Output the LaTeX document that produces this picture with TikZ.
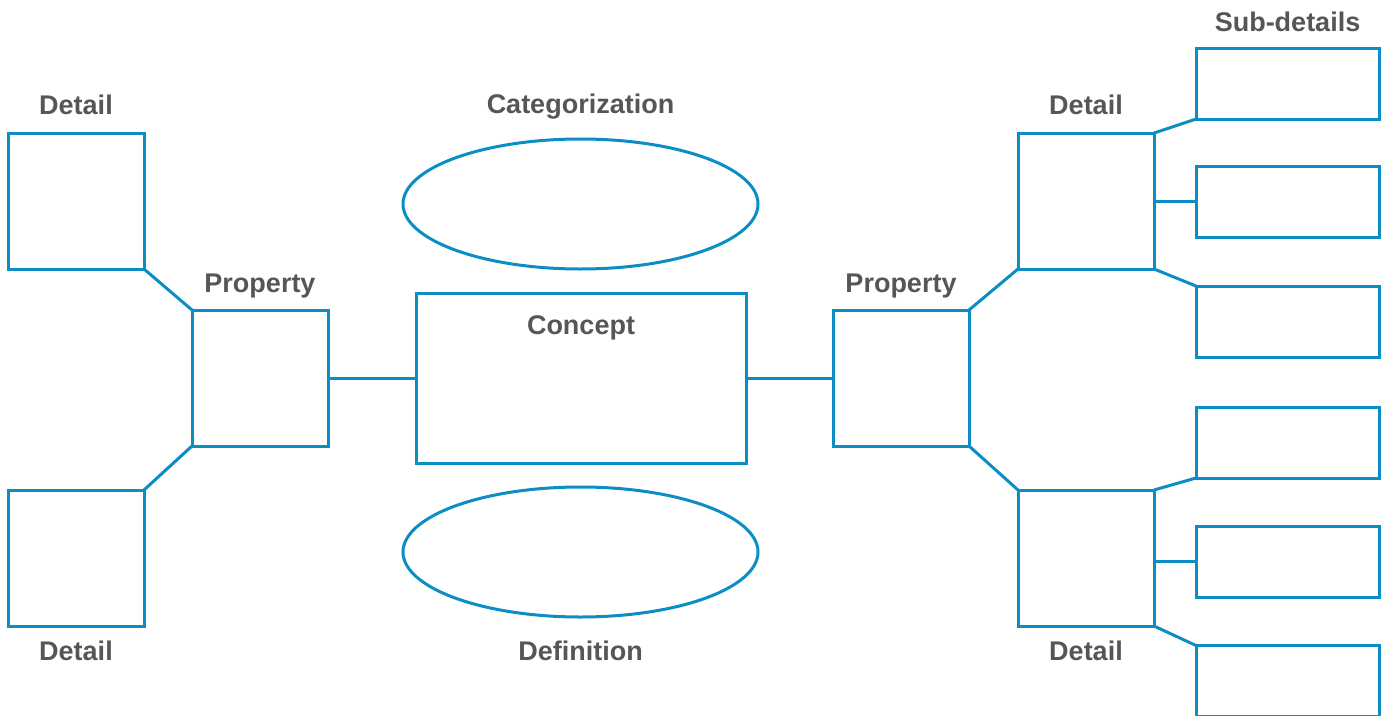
\documentclass[tikz,border=0pt]{standalone}
\usepackage{fontspec}
\setmainfont{Liberation Sans}
\usepackage{xcolor}
\usepackage{tikz}
\usetikzlibrary{shapes,positioning,calc}
\definecolor{mapblue}{RGB}{12,142,196}
\definecolor{mapgray}{RGB}{85,86,88}

\begin{document}
\begin{tikzpicture}[
    x=1pt, y=-1pt,
    box/.style={draw=mapblue, line width=3pt, rectangle, outer sep=0pt, inner sep=0pt, minimum width=136pt, minimum height=136pt},
    sub/.style={draw=mapblue, line width=3pt, rectangle, outer sep=0pt, inner sep=0pt, minimum width=183pt, minimum height=71pt},
    oval/.style={draw=mapblue, line width=3pt, ellipse, outer sep=0pt, inner sep=0pt, minimum width=355pt, minimum height=130pt},
    lbl/.style={anchor=base, font=\bfseries\fontsize{27}{30}\selectfont, text=mapgray},
    link/.style={draw=mapblue, line width=3pt}
]
    \useasboundingbox (0,0) rectangle (1387,715);

    % Centre
    \node [box, minimum width=330pt, minimum height=170pt] (concept) at (581,378) {};
    \node [lbl] (lblconcept) at ([yshift=-41pt]concept.north) {Concept};
    \node [oval] (categ) at (580.5,204) {};
    \node [lbl] (lblcateg) at ([yshift=26pt]categ.north) {Categorization};
    \node [oval] (defin) at (580.5,552) {};
    \node [lbl] (lbldefin) at ([yshift=-43pt]defin.south) {Definition};

    % Left side
    \node [box] (propL) at (260,378) {};
    \node [lbl] (lblpropL) at ([yshift=18pt]propL.north) {Property};
    \node [box] (detL1) at (76,201) {};
    \node [lbl] (lbldetL1) at ([yshift=19pt]detL1.north) {Detail};
    \node [box] (detL2) at (76,558) {};
    \node [lbl] (lbldetL2) at ([yshift=-34pt]detL2.south) {Detail};

    % Right side
    \node [box] (propR) at (901,378) {};
    \node [lbl] (lblpropR) at ([yshift=18pt]propR.north) {Property};
    \node [box] (detR1) at (1086,201) {};
    \node [lbl] (lbldetR1) at ([yshift=19pt]detR1.north) {Detail};
    \node [box] (detR2) at (1086,558) {};
    \node [lbl] (lbldetR2) at ([yshift=-34pt]detR2.south) {Detail};

    % Sub-details
    \foreach \n/\y in {1/83.5, 2/201.5, 3/321.5, 4/442.5, 5/561.5, 6/681} {
        \node [sub] (sub\n) at (1287.5,\y) {};
    }
    \node [lbl] (lblsub) at ([yshift=17pt]sub1.north) {Sub-details};

    % Links
    \draw [link] (propL.east) -- (concept.west);
    \draw [link] (concept.east) -- (propR.west);
    \draw [link] (detL1.south east) -- (propL.north west);
    \draw [link] (propL.south west) -- (detL2.north east);
    \draw [link] (propR.north east) -- (detR1.south west);
    \draw [link] (propR.south east) -- (detR2.north west);
    \draw [link] (detR1.north east) -- (sub1.south west);
    \draw [link] (detR1.east |- sub2.west) -- (sub2.west);
    \draw [link] (detR1.south east) -- (sub3.north west);
    \draw [link] (detR2.north east) -- (sub4.south west);
    \draw [link] (detR2.east |- sub5.west) -- (sub5.west);
    \draw [link] (detR2.south east) -- (sub6.north west);
\end{tikzpicture}
\end{document}
